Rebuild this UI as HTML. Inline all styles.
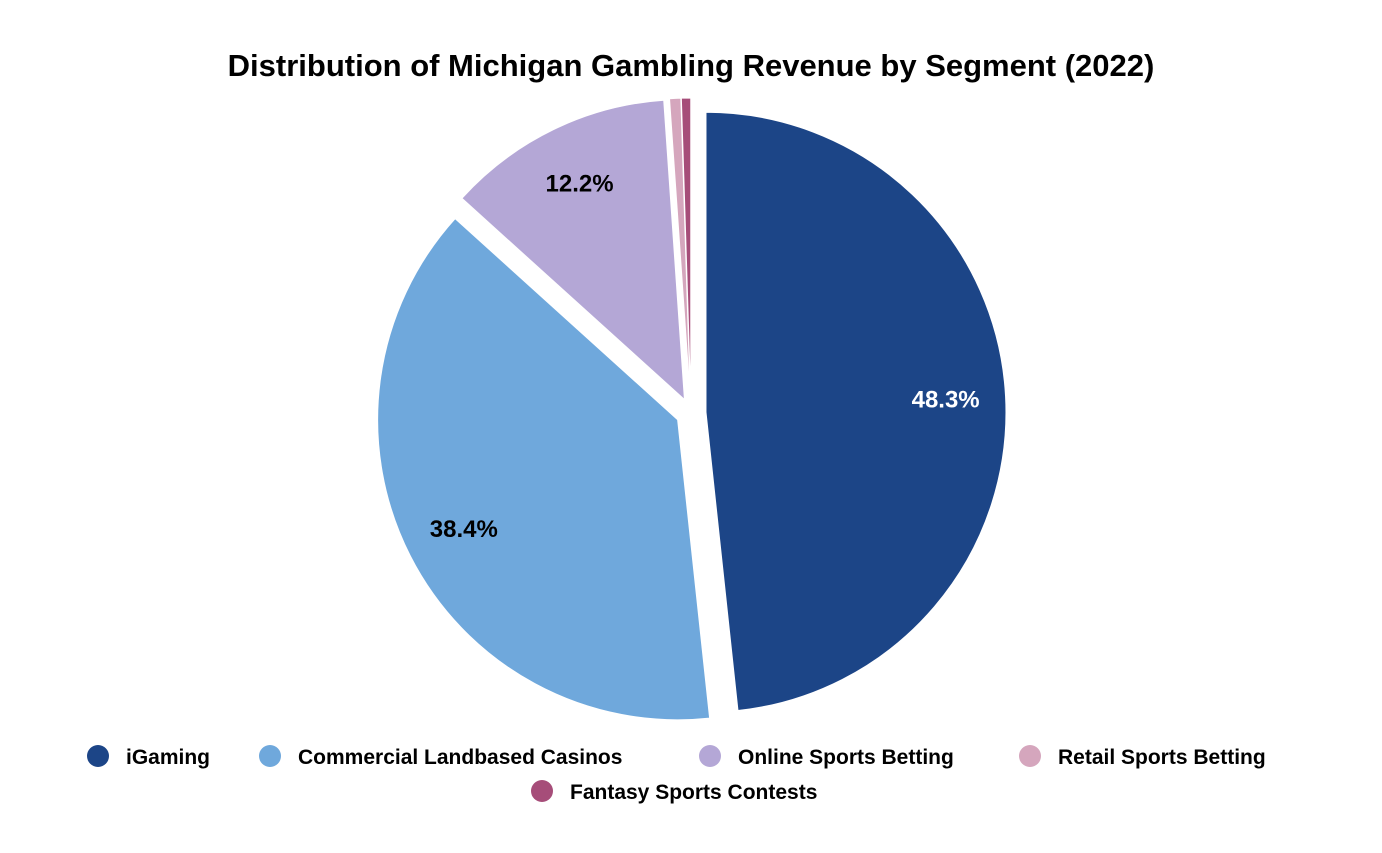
<!DOCTYPE html>
<html><head><meta charset="utf-8"><style>
body{margin:0;background:#fff;width:1382px;height:848px;overflow:hidden;font-family:"Liberation Sans",Arial,sans-serif}
</style></head><body>
<svg width="1382" height="848">
<text x="691" y="76" text-anchor="middle" font-size="31" font-weight="bold" fill="#000">Distribution of Michigan Gambling Revenue by Segment (2022)</text>
<g id="slices"></g>
<g id="legend"></g>
</svg>
<script>
const categories=["iGaming","Commercial Landbased Casinos","Online Sports Betting","Retail Sports Betting","Fantasy Sports Contests"];
const values=[48.3,38.4,12.2,0.6,0.5];
const colors=["#1c4587","#6fa8dc","#b4a7d6","#d5a6bd","#a64d79"];
const labelColors=["#fff","#000","#000",null,null];
const NS="http://www.w3.org/2000/svg";
const cx=691,cy=413,r=300,d=15;
const total=values.reduce((a,b)=>a+b,0);
const g=document.getElementById('slices');
let acc=0;
values.forEach((v,i)=>{
  const a0=acc/total*2*Math.PI, a1=(acc+v)/total*2*Math.PI; acc+=v;
  const am=(a0+a1)/2;
  const ox=cx+d*Math.sin(am), oy=cy-d*Math.cos(am);
  const p=(a)=>[ox+r*Math.sin(a),oy-r*Math.cos(a)];
  const [x0,y0]=p(a0),[x1,y1]=p(a1);
  const path=document.createElementNS(NS,'path');
  path.setAttribute('d',`M${ox},${oy}L${x0},${y0}A${r},${r} 0 ${a1-a0>Math.PI?1:0} 1 ${x1},${y1}Z`);
  path.setAttribute('fill',colors[i]);
  path.setAttribute('stroke','#fff');path.setAttribute('stroke-width','1');
  
  
  g.appendChild(path);
  if(v>5){
    const t=document.createElementNS(NS,'text');
    t.setAttribute('x',ox+0.8*r*Math.sin(am));t.setAttribute('y',oy-0.8*r*Math.cos(am)+8);
    t.setAttribute('text-anchor','middle');t.setAttribute('font-size','24');t.setAttribute('font-weight','bold');
    t.setAttribute('fill',labelColors[i]);t.textContent=v.toFixed(1)+'%';
    
    
    g.appendChild(t);
  }
});
const lg=document.getElementById('legend');
const pos=[[98,756],[270,756],[710,756],[1030,756],[542,791]];
categories.forEach((c,i)=>{
  const e=document.createElementNS(NS,'g');
  
  
  const ci=document.createElementNS(NS,'circle');
  ci.setAttribute('cx',pos[i][0]);ci.setAttribute('cy',pos[i][1]);ci.setAttribute('r',11);ci.setAttribute('fill',colors[i]);
  const t=document.createElementNS(NS,'text');
  t.setAttribute('x',pos[i][0]+28);t.setAttribute('y',pos[i][1]+8);t.setAttribute('font-size','21');t.setAttribute('font-weight','bold');t.setAttribute('fill','#000');
  t.textContent=c;
  e.appendChild(ci);e.appendChild(t);lg.appendChild(e);
});
</script>
</body></html>
